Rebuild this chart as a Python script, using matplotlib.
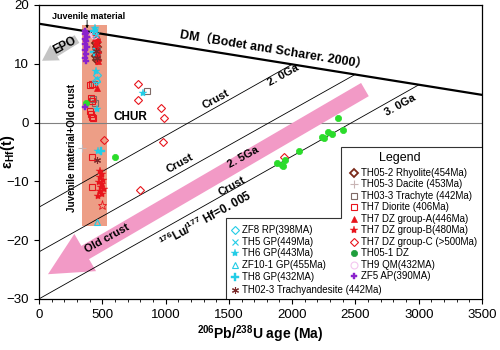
import numpy as np
import matplotlib
matplotlib.use("Agg")
import matplotlib.pyplot as plt
from matplotlib.patches import Rectangle, FancyArrowPatch, Polygon
from matplotlib.ticker import MultipleLocator

plt.rcParams['font.family'] = ['Liberation Sans', 'Noto Sans CJK SC', 'DejaVu Sans']
plt.rcParams['mathtext.fontset'] = 'custom'
plt.rcParams['mathtext.rm'] = 'Liberation Sans'
plt.rcParams['mathtext.bf'] = 'Liberation Sans:bold'
plt.rcParams['mathtext.it'] = 'Liberation Sans:italic'

# ---- reference lines (age Ma, epsilon Hf) ----
dm_line = ([0, 3500], [16.8, 4.7])
crust_lines = {
    "2.0Ga": ([0, 2000], [-14.4, 9.9]),
    "2.5Ga": ([0, 2500], [-22.0, 8.2]),
    "3.0Ga": ([0, 3000], [-30.0, 6.4]),
}
juvenile_x = (340, 537)
juvenile_y = (-17.6, 16.5)

# ---- samples: (age, eHf) ----
th05_2 = [(452, 13.5), (455, 12.8), (458, 12.0), (454, 11.3), (456, 10.7)]
th05_3 = [(340, -4.4), (455, 14.0), (470, 12.5)]
th03_3 = [(853, 5.4), (432, 6.6), (428, 4.0), (440, 3.3), (455, 12.4), (460, 11.4)]
th7_dio = [(403, 6.3), (418, 6.5), (410, 4.2), (420, 3.6), (400, 2.0), (412, 1.5),
           (420, 1.0), (425, 0.7), (418, -5.9), (418, -11.0)]
th7_a = [(440, 15.0), (455, 14.7), (445, 14.4), (465, 14.2), (450, 13.9), (460, 13.5),
         (445, 13.0), (470, 12.4), (455, 11.8), (465, 11.0), (470, 10.5), (455, 5.8)]
th7_b = [(480, -8.2), (495, -8.8), (485, -9.3), (505, -9.7), (475, -10.1), (500, -10.5),
         (490, -10.9), (510, -11.3), (480, -11.7), (495, -12.1), (470, -12.5)]
th7_b_open = [(500, -14.1)]
th7_c = [(783, 6.6), (783, 3.9), (963, 2.5), (988, 0.7), (980, -3.4), (512, -2.9),
         (797, -11.4), (1935, -5.9)]
th05_1 = [(371, 3.4), (600, -5.9), (1880, -6.9), (1919, -7.2), (1943, -6.4),
          (1927, -7.4), (2054, -4.9), (2235, -2.4), (2250, -2.7), (2283, -1.7),
          (2314, -1.9), (2362, 0.8), (2401, -1.2)]
th9 = [(430, 15.2), (436, 14.8)]
zf5 = [(365, 15.6), (375, 15.3), (360, 15.0), (378, 14.6), (365, 14.2), (372, 13.8),
       (362, 13.3), (376, 12.9), (366, 12.4), (370, 11.7), (362, 11.0), (368, 10.4),
       (360, 2.6)]
zf8 = [(455, 8.0), (448, 7.0)]
th5 = [(440, 15.5), (452, 14.8)]
th6 = [(445, 16.0), (450, 8.8), (455, 2.3), (470, -4.8), (820, 5.1)]
zf10 = [(455, -17.0), (460, 7.4)]
th8 = [(432, 15.5), (438, 12.0), (488, -4.9)]
th02_3 = [(458, -6.4), (450, 12.2), (456, 11.0)]

red = "#E8141C"
cyan = "#22CCE6"
styles = [
    # label, data, marker, size, face, edge, edge width
    ("TH05-2 Rhyolite(454Ma)", th05_2, "D", 3.6, "none", "#7A2A1A", 1.3),
    ("TH05-3 Dacite (453Ma)", th05_3, "+", 6, "none", "#C8B4B4", 0.8),
    ("TH03-3 Trachyte (442Ma)", th03_3, "s", 4.2, "none", "#7F6A66", 0.8),
    ("TH7 Diorite (406Ma)", th7_dio, "s", 4.2, "none", red, 0.8),
    ("TH7 DZ group-A(446Ma)", th7_a, "^", 5, red, red, 0.5),
    ("TH7 DZ group-B(480Ma)", th7_b, "*", 6, red, red, 0.3),
    ("TH7 DZ group-C (>500Ma)", th7_c, "D", 3.8, "none", red, 0.8),
    ("TH05-1 DZ", th05_1, "o", 4.5, "#2ADC2A", "#2ADC2A", 0.5),
    ("TH9 QM(432MA)", th9, "o", 5, "none", "#F4C6F0", 0.8),
    ("ZF5 AP(390MA)", zf5, "P", 5, "#8A22CC", "#8A22CC", 0.3),
]
styles_left = [
    ("ZF8 RP(398MA)", zf8, "D", 3.8, "none", cyan, 0.8),
    ("TH5 GP(449Ma)", th5, "x", 4.5, "none", cyan, 0.8),
    ("TH6 GP(443Ma)", th6, "*", 6, cyan, cyan, 0.3),
    ("ZF10-1 GP(455Ma)", zf10, "^", 5, "none", cyan, 0.8),
    ("TH8 GP(432MA)", th8, "P", 5.5, cyan, cyan, 0.3),
    ("TH02-3 Trachyandesite (442Ma)", th02_3, (6, 2, 0), 5, "#7A2A2A", "#7A2A2A", 0.8),
]

fig = plt.figure(figsize=(5, 3.5), dpi=100)
ax = fig.add_axes([0.078, 0.146, 0.886, 0.84])
ax.set_xlim(0, 3500)
ax.set_ylim(-30, 20)

# juvenile band
ax.add_patch(Rectangle((juvenile_x[0], juvenile_y[0]), juvenile_x[1] - juvenile_x[0],
                       juvenile_y[1] - juvenile_y[0], facecolor="#EC9479",
                       edgecolor="none", alpha=0.9, zorder=1))

# lines
ax.axhline(0, color="#808080", lw=0.8, zorder=2)
ax.plot(*dm_line, color="black", lw=1.6, zorder=3)
for xs, ys in crust_lines.values():
    ax.plot(xs, ys, color="black", lw=0.6, zorder=3)

# arrows
pink = FancyArrowPatch((2575, 5.6), (71, -25.8),
                       arrowstyle="simple,head_length=31,head_width=31,tail_width=11",
                       mutation_scale=1, color="#F29AC6", lw=0, shrinkA=0, shrinkB=0,
                       zorder=2.5)
ax.add_patch(pink)
epo = FancyArrowPatch((300, 14.2), (24, 10.5),
                      arrowstyle="simple,head_length=11,head_width=13,tail_width=6.5",
                      mutation_scale=1, color="#C4C4C4", lw=0, shrinkA=0, shrinkB=0,
                      zorder=2)
ax.add_patch(epo)

# points
for lab, pts, m, ms, fc, ec, mew in styles + styles_left:
    a = np.array(pts)
    ax.plot(a[:, 0], a[:, 1], ls="none", marker=m, ms=ms, mfc=fc, mec=ec, mew=mew, zorder=4)
a = np.array(th7_b_open)
ax.plot(a[:, 0], a[:, 1], ls="none", marker="*", ms=6.5, mfc="none", mec=red, mew=0.6, zorder=4)

# texts
bold = dict(fontweight="bold", ha="center", va="center", rotation_mode="anchor", zorder=5)
ax.text(1850, 12.1, "DM（Bodet and Scharer. 2000）", fontsize=9, rotation=-9.2, **bold)
ax.text(205, 13.0, "EPO", fontsize=8.5, rotation=28, **bold)
ax.text(720, 0.9, "CHUR", fontsize=8.5, **bold)
ax.text(395, 18.1, "Juvenile material", fontsize=6.5, **bold)
ax.annotate("", xy=(380, 16.0), xytext=(380, 17.4),
            arrowprops=dict(arrowstyle="-|>", lw=0.6, color="black",
                            mutation_scale=4, shrinkA=0, shrinkB=0))
ax.text(260, -4.4, "Juvenile material+Old crust", fontsize=7, rotation=90, **bold)
ax.text(1398, 3.9, "Crust", fontsize=8, rotation=29, **bold)
ax.text(1927, 8.1, "2. 0Ga", fontsize=8, rotation=29, **bold)
ax.text(1114, -7.0, "Crust", fontsize=8, rotation=29, **bold)
ax.text(1611, -5.9, "2. 5Ga", fontsize=8, rotation=29, **bold)
ax.text(1524, -10.8, "Crust", fontsize=8, rotation=29, **bold)
ax.text(2851, 2.9, "3. 0Ga", fontsize=8, rotation=29, **bold)
ax.text(537, -19.7, "Old crust", fontsize=8, rotation=29, **bold)
ax.text(1319, -16.4, r"$^{\mathbf{176}}$Lu/$^{\mathbf{177}}$ Hf=0. 005", fontsize=8.5,
        rotation=29, **bold)

# legend (L-shaped box)
box = [(0.682, 0.517), (1.0, 0.517), (1.0, 0.0), (0.422, 0.0), (0.422, 0.2755),
       (0.682, 0.2755)]
ax.add_patch(Polygon(box, closed=True, transform=ax.transAxes, facecolor="white",
                     edgecolor="#333333", lw=0.8, zorder=6))
ax.text(0.815, 0.480, "Legend", transform=ax.transAxes, fontsize=9, ha="center",
        va="center", zorder=7)
rows_r = [173, 184.5, 196, 207.5, 219, 230.5, 242, 253.5, 265, 276.5]
for (lab, pts, m, ms, fc, ec, mew), py in zip(styles, rows_r):
    yy = (299 - py) / 294
    if lab == "TH05-1 DZ":
        fc = ec = "#1E9E3C"
    ax.plot([0.711], [yy], transform=ax.transAxes, ls="none", marker=m, ms=ms,
            mfc=fc, mec=ec, mew=mew, zorder=7, clip_on=False)
    ax.text(0.727, yy, lab, transform=ax.transAxes, fontsize=7, va="center", zorder=7)
rows_l = [230, 242, 253, 265, 277, 290]
for (lab, pts, m, ms, fc, ec, mew), py in zip(styles_left, rows_l):
    yy = (299 - py) / 294
    ax.plot([0.442], [yy], transform=ax.transAxes, ls="none", marker=m, ms=ms,
            mfc=fc, mec=ec, mew=mew, zorder=7, clip_on=False)
    ax.text(0.458, yy, lab, transform=ax.transAxes, fontsize=7, va="center", zorder=7)

# axes
ax.xaxis.set_major_locator(MultipleLocator(500))
ax.xaxis.set_minor_locator(MultipleLocator(100))
ax.yaxis.set_major_locator(MultipleLocator(10))
ax.tick_params(which="both", direction="out", top=False, right=False, labelsize=9.5)
ax.tick_params(which="major", length=3.5, width=0.8)
ax.tick_params(which="minor", length=2, width=0.6)
for s in ax.spines.values():
    s.set_linewidth(0.9)
ax.set_xlabel(r"$^{\mathbf{206}}$Pb/$^{\mathbf{238}}$U age (Ma)", fontsize=10,
              fontweight="bold", labelpad=2)
ax.set_ylabel("ε" + r"$_{\mathbf{Hf}}$" + "(t)", fontsize=10.5, fontweight="bold")
ax.yaxis.set_label_coords(-0.05, 0.5)

fig.savefig("out.png", dpi=100)
